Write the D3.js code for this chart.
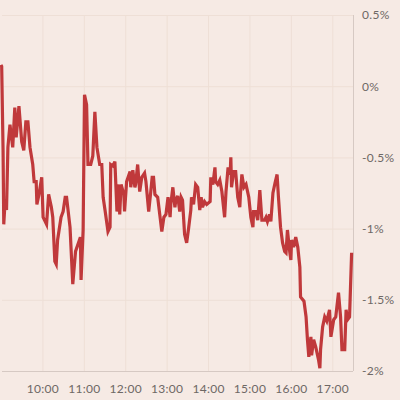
<!DOCTYPE html>
<html>
<head>
<meta charset="utf-8">
<script src="https://cdn.jsdelivr.net/npm/d3@7"></script>
<style>
  html, body { margin: 0; padding: 0; background: #f6eae4; }
  #chart { width: 400px; height: 400px; }
  .tick text { font-family: Lato, "Open Sans", sans-serif; font-size: 12px; letter-spacing: 0.3px; fill: #6e6864; }
</style>
</head>
<body>
<div id="chart"></div>
<script>
// minutes after 09:00 and change in %
var startTime = "09:00";
var minutes = [0, 1, 3, 4, 6, 8, 10, 13, 17, 20, 22, 26, 30, 33, 36, 39, 42, 46, 48, 51,
  52, 55, 59, 61, 66, 69, 73, 75, 78, 80, 82, 87, 90, 93, 95, 100, 104, 108, 115, 116,
  119, 121, 124, 126, 130, 133, 136, 139, 143, 146, 148, 151, 155, 158, 159, 162, 165, 168, 171, 172,
  174, 178, 179, 182, 187, 188, 191, 194, 195, 198, 201, 204, 208, 210, 214, 217, 219, 221, 223, 227,
  230, 233, 236, 239, 242, 245, 246, 249, 252, 253, 256, 259, 261, 263, 266, 269, 272, 275, 276, 279,
  282, 285, 288, 290, 292, 295, 298, 303, 304, 307, 310, 311, 314, 317, 320, 324, 326, 329, 332, 333,
  334, 337, 340, 343, 346, 347, 349, 352, 355, 359, 362, 365, 366, 369, 372, 375, 378, 382, 384, 386,
  389, 391, 394, 397, 400, 402, 405, 408, 411, 413, 415, 418, 420, 421, 424, 427, 430, 433, 434, 439,
  442, 444, 446, 449, 450, 453, 456, 460, 462, 463, 466, 469, 472, 476, 478, 482, 485, 489, 492, 494,
  498, 500, 502, 505, 508];
var change = [0.15, 0.14, -0.45, -0.97, -0.80, -0.87, -0.43, -0.27, -0.43, -0.15, -0.36, -0.14, -0.39, -0.45, -0.25, -0.25, -0.43, -0.55, -0.67, -0.67,
  -0.83, -0.76, -0.64, -0.92, -0.97, -0.76, -0.85, -0.92, -1.23, -1.25, -1.08, -0.92, -0.88, -0.78, -0.78, -0.99, -1.39, -1.16, -1.06, -1.36,
  -1.01, -0.06, -0.13, -0.55, -0.55, -0.49, -0.18, -0.43, -0.55, -0.55, -0.78, -0.88, -1.02, -0.99, -0.55, -0.56, -0.53, -0.88, -0.69, -0.90,
  -0.69, -0.76, -0.88, -0.67, -0.60, -0.71, -0.59, -0.71, -0.69, -0.55, -0.74, -0.64, -0.61, -0.67, -0.88, -0.74, -0.64, -0.64, -0.76, -0.78,
  -0.90, -1.02, -0.92, -0.90, -0.78, -0.92, -0.83, -0.71, -0.85, -0.81, -0.77, -0.88, -0.78, -0.80, -1.04, -1.10, -0.99, -0.87, -0.78, -0.83,
  -0.69, -0.71, -0.87, -0.78, -0.85, -0.81, -0.83, -0.81, -0.64, -0.69, -0.57, -0.67, -0.69, -0.66, -0.74, -0.92, -0.74, -0.57, -0.62, -0.50,
  -0.71, -0.60, -0.60, -0.78, -0.85, -0.75, -0.62, -0.71, -0.69, -0.78, -0.92, -0.99, -0.88, -0.88, -0.94, -0.73, -0.94, -0.94, -0.92, -0.95,
  -0.90, -0.95, -0.75, -0.68, -0.62, -0.78, -0.99, -1.10, -1.16, -1.17, -1.01, -1.15, -1.22, -1.08, -1.13, -1.06, -1.13, -1.27, -1.48, -1.51,
  -1.62, -1.78, -1.90, -1.76, -1.89, -1.78, -1.83, -1.92, -1.98, -1.85, -1.69, -1.62, -1.65, -1.57, -1.76, -1.64, -1.62, -1.45, -1.62, -1.85,
  -1.85, -1.57, -1.64, -1.62, -1.17];
var hourTicks = ["10:00", "11:00", "12:00", "13:00", "14:00", "15:00", "16:00", "17:00"];
var pctTicks = [0.5, 0, -0.5, -1, -1.5, -2];
var endTime = "17:30";

var parse = d3.timeParse("%H:%M"),
    t0 = parse(startTime),
    data = minutes.map(function(m, i) {
      return { t: d3.timeMinute.offset(t0, m), v: change[i] };
    });

var width = 400, height = 400,
    plotLeft = 1, plotRight = 353, plotTop = 15, plotBottom = 371;

var svg = d3.select("#chart").append("svg")
  .attr("width", width)
  .attr("height", height);

svg.append("rect").attr("width", width).attr("height", height).attr("fill", "#f6eae4");

var x = d3.scaleTime().domain([t0, parse(endTime)]).range([plotLeft, plotRight]);
var y = d3.scaleLinear().domain([-2, 0.5]).range([plotBottom, plotTop]);

// horizontal grid + right axis labels
var yAxis = svg.append("g")
  .attr("transform", "translate(" + plotRight + ",0)")
  .call(d3.axisRight(y).tickValues(pctTicks).tickSize(0).tickPadding(9)
    .tickFormat(function(d) { return d + "%"; }));
yAxis.select(".domain").remove();
yAxis.selectAll(".tick").append("line")
  .attr("x1", plotLeft - plotRight + 1).attr("x2", 0)
  .attr("stroke", "#eedfd6");

// vertical grid + bottom labels
var xAxis = svg.append("g")
  .attr("transform", "translate(0," + plotBottom + ")")
  .call(d3.axisBottom(x).tickValues(hourTicks.map(parse)).tickSize(0).tickPadding(13)
    .tickFormat(d3.timeFormat("%H:%M")));
xAxis.select(".domain").remove();
xAxis.selectAll(".tick").append("line")
  .attr("y1", plotTop - plotBottom).attr("y2", 0)
  .attr("stroke", "#eedfd6");

// axis lines
svg.append("line")
  .attr("x1", plotLeft + 1).attr("x2", plotRight)
  .attr("y1", plotBottom + 0.5).attr("y2", plotBottom + 0.5)
  .attr("stroke", "#d6c9c3");
svg.append("line")
  .attr("x1", plotRight + 0.5).attr("x2", plotRight + 0.5)
  .attr("y1", plotTop).attr("y2", plotBottom)
  .attr("stroke", "#d6c9c3");

var line = d3.line()
  .x(function(d) { return x(d.t); })
  .y(function(d) { return y(d.v); });

svg.append("path")
  .datum(data)
  .attr("fill", "none")
  .attr("stroke", "#c0393b")
  .attr("stroke-width", 3.2)
  .attr("stroke-linejoin", "miter")
  .attr("d", line);
</script>
</body>
</html>
